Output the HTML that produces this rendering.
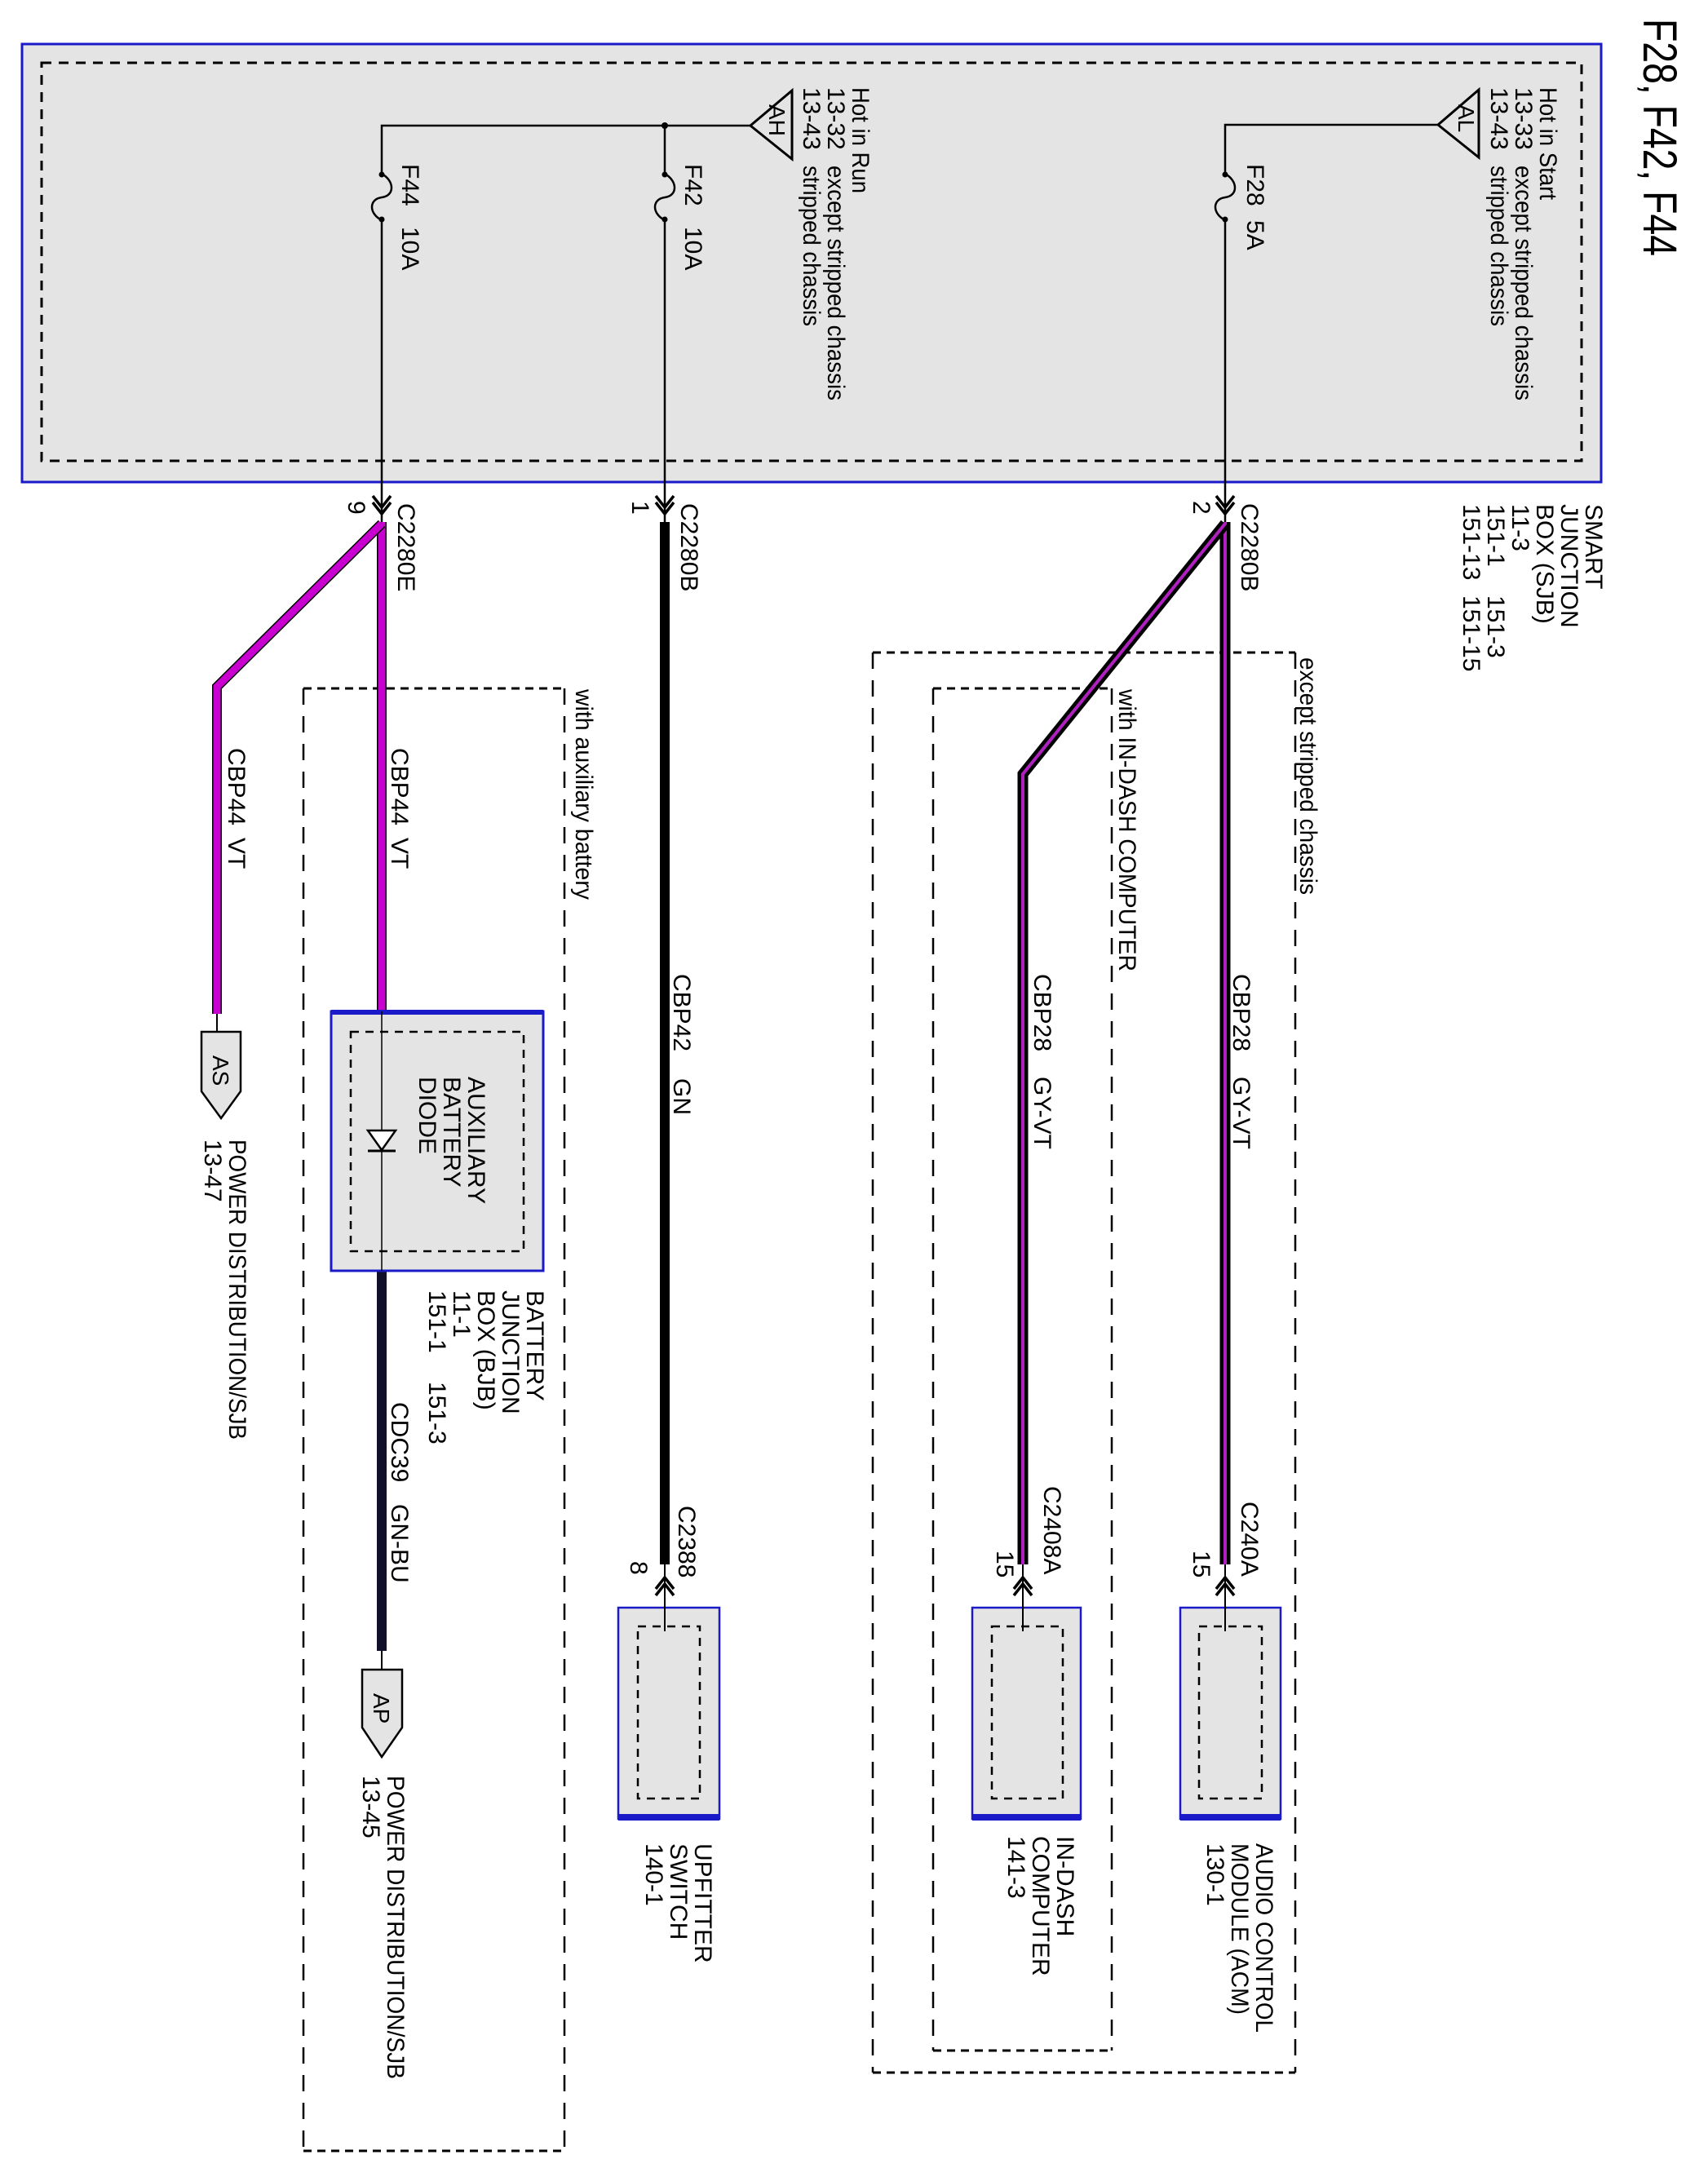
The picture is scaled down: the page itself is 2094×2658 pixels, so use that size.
<!DOCTYPE html>
<html><head><meta charset="utf-8"><style>
html,body{margin:0;padding:0;background:#fff}
svg{display:block}
text{font-family:"Liberation Sans",Arial,sans-serif;fill:#000}
</style></head><body>
<svg width="2094" height="2658" viewBox="0 0 2094 2658" xmlns="http://www.w3.org/2000/svg">
<!-- SJB box -->
<rect x="27" y="54" width="1936" height="537" fill="#e4e4e4" stroke="#1a1ac8" stroke-width="3"/>
<rect x="51" y="77" width="1888" height="488" fill="none" stroke="#000" stroke-width="3" stroke-dasharray="12,9"/>

<g font-size="30">
<!-- title -->
<text transform="translate(2015,23) rotate(90)" font-size="58" textLength="291" lengthAdjust="spacingAndGlyphs">F28, F42, F44</text>

<!-- Hot in Start -->
<text transform="translate(1888,107) rotate(90)" textLength="138" lengthAdjust="spacingAndGlyphs">Hot in Start</text>
<text transform="translate(1858,107) rotate(90)">13-33</text>
<text transform="translate(1858,203) rotate(90)" textLength="288" lengthAdjust="spacingAndGlyphs">except stripped chassis</text>
<text transform="translate(1828,107) rotate(90)">13-43</text>
<text transform="translate(1828,203) rotate(90)" textLength="197" lengthAdjust="spacingAndGlyphs">stripped chassis</text>

<!-- Hot in Run -->
<text transform="translate(1045,107) rotate(90)" textLength="130" lengthAdjust="spacingAndGlyphs">Hot in Run</text>
<text transform="translate(1015,107) rotate(90)">13-32</text>
<text transform="translate(1015,203) rotate(90)" textLength="288" lengthAdjust="spacingAndGlyphs">except stripped chassis</text>
<text transform="translate(985,107) rotate(90)">13-43</text>
<text transform="translate(985,203) rotate(90)" textLength="197" lengthAdjust="spacingAndGlyphs">stripped chassis</text>

<!-- fuse labels -->
<text transform="translate(1529,201) rotate(90)">F28</text>
<text transform="translate(1529,270) rotate(90)">5A</text>
<text transform="translate(840,201) rotate(90)">F42</text>
<text transform="translate(840,278) rotate(90)">10A</text>
<text transform="translate(493,201) rotate(90)">F44</text>
<text transform="translate(493,278) rotate(90)">10A</text>

<!-- triangle labels -->
<text transform="translate(1788,128) rotate(90)" font-size="28">AL</text>
<text transform="translate(943,128) rotate(90)" font-size="28">AH</text>
</g>

<!-- AL / AH triangles -->
<polygon points="1763,153 1813,110 1813,193" fill="none" stroke="#000" stroke-width="3"/>
<polygon points="920,154 971,111 971,195" fill="none" stroke="#000" stroke-width="3"/>

<!-- top lines -->
<g stroke="#000" stroke-width="2.5" fill="none">
<path d="M1763,153 L1502,153 L1502,213"/>
<path d="M1502,270 L1502,640"/>
<path d="M920,154 L468,154 L468,213"/>
<path d="M815,154 L815,213"/>
<path d="M815,270 L815,640"/>
<path d="M468,270 L468,640"/>
<!-- fuses -->
<path d="M1502,213 C1518,222 1518,240 1502,242 C1486,244 1486,262 1502,270"/>
<path d="M815,213 C831,222 831,240 815,242 C799,244 799,262 815,270"/>
<path d="M468,213 C484,222 484,240 468,242 C452,244 452,262 468,270"/>
</g>
<g fill="#000">
<circle cx="1502" cy="214" r="3.5"/><circle cx="1502" cy="269" r="3.5"/>
<circle cx="815" cy="214" r="3.5"/><circle cx="815" cy="269" r="3.5"/>
<circle cx="468" cy="214" r="3.5"/><circle cx="468" cy="269" r="3.5"/>
<circle cx="815" cy="154" r="4"/>
</g>

<!-- top connector arrows -->
<g stroke="#000" stroke-width="3.5" fill="none">
<path d="M1491,608 L1502,622 L1513,608 M1491,616 L1502,630 L1513,616"/>
<path d="M804,608 L815,622 L826,608 M804,616 L815,630 L826,616"/>
<path d="M457,608 L468,622 L479,608 M457,616 L468,630 L479,616"/>
</g>

<!-- SJB label -->
<g font-size="30">
<text transform="translate(1944,618) rotate(90)">SMART</text>
<text transform="translate(1914,618) rotate(90)">JUNCTION</text>
<text transform="translate(1884,618) rotate(90)">BOX (SJB)</text>
<text transform="translate(1854,618) rotate(90)">11-3</text>
<text transform="translate(1824,618) rotate(90)">151-1</text>
<text transform="translate(1824,730) rotate(90)">151-3</text>
<text transform="translate(1794,618) rotate(90)">151-13</text>
<text transform="translate(1794,730) rotate(90)">151-15</text>

<text transform="translate(1522,617) rotate(90)">C2280B</text>
<text transform="translate(1463,614) rotate(90)">2</text>
<text transform="translate(835,617) rotate(90)">C2280B</text>
<text transform="translate(775,614) rotate(90)">1</text>
<text transform="translate(488,617) rotate(90)">C2280E</text>
<text transform="translate(427,614) rotate(90)">9</text>
</g>

<!-- dashed option boxes -->
<g fill="none" stroke="#000" stroke-width="3">
<path d="M1070,800 L1588,800 M1070,2541 L1588,2541" stroke-dasharray="10,7"/>
<path d="M1070,800 L1070,2541 M1588,800 L1588,2541" stroke-dasharray="20,14" stroke-width="2.5"/>
<path d="M1144,844 L1363,844 M1144,2514 L1363,2514" stroke-dasharray="10,7"/>
<path d="M1144,844 L1144,2514 M1363,844 L1363,2514" stroke-dasharray="20,14" stroke-width="2.5"/>
<path d="M372,844 L692,844 M372,2637 L692,2637" stroke-dasharray="10,7"/>
<path d="M372,844 L372,2637 M692,844 L692,2637" stroke-dasharray="20,14" stroke-width="2.5"/>
</g>
<g font-size="30">
<text transform="translate(1594,806) rotate(90)" textLength="291" lengthAdjust="spacingAndGlyphs">except stripped chassis</text>
<text transform="translate(1372,845) rotate(90)" textLength="346" lengthAdjust="spacingAndGlyphs">with IN-DASH COMPUTER</text>
<text transform="translate(706,845) rotate(90)" textLength="258" lengthAdjust="spacingAndGlyphs">with auxiliary battery</text>
</g>

<!-- wires -->
<g fill="none" stroke-linejoin="miter">
<!-- GY-VT -->
<path d="M1502,640 L1502,1918" stroke="#000" stroke-width="13"/>
<path d="M1502,640 L1502,1918" stroke="#b020c0" stroke-width="4"/>
<path d="M1502,642 L1254,949 L1254,1918" stroke="#000" stroke-width="13"/>
<path d="M1502,642 L1254,949 L1254,1918" stroke="#b020c0" stroke-width="4"/>
<!-- GN -->
<path d="M815,640 L815,1918" stroke="#000" stroke-width="12"/>
<!-- VT -->
<path d="M468,640 L468,1240" stroke="#000" stroke-width="12"/>
<path d="M468,640 L468,1240" stroke="#c800d0" stroke-width="9"/>
<path d="M468,642 L266,842 L266,1243" stroke="#000" stroke-width="12"/>
<path d="M468,642 L266,842 L266,1243" stroke="#c800d0" stroke-width="9"/>
<!-- GN-BU -->
<path d="M468,1558 L468,2024" stroke="#101028" stroke-width="12"/>
</g>

<!-- wire labels -->
<g font-size="30">
<text transform="translate(1512,1194) rotate(90)">CBP28</text>
<text transform="translate(1512,1320) rotate(90)">GY-VT</text>
<text transform="translate(1268,1194) rotate(90)">CBP28</text>
<text transform="translate(1268,1320) rotate(90)">GY-VT</text>
<text transform="translate(826,1194) rotate(90)">CBP42</text>
<text transform="translate(826,1322) rotate(90)">GN</text>
<text transform="translate(480,917) rotate(90)">CBP44</text>
<text transform="translate(480,1027) rotate(90)">VT</text>
<text transform="translate(280,917) rotate(90)">CBP44</text>
<text transform="translate(280,1027) rotate(90)">VT</text>
<text transform="translate(480,1719) rotate(90)">CDC39</text>
<text transform="translate(480,1844) rotate(90)">GN-BU</text>
</g>

<!-- thin lines to devices -->
<g stroke="#000" stroke-width="2" fill="none">
<path d="M1502,1918 L1502,2000"/>
<path d="M1254,1918 L1254,2000"/>
<path d="M815,1918 L815,2000"/>
<path d="M266,1243 L266,1265"/>
<path d="M468,2024 L468,2047"/>
<path d="M468,1240 L468,1558"/>
</g>
<!-- bottom connector arrows (upward) -->
<g stroke="#000" stroke-width="3.5" fill="none">
<path d="M1491,1948 L1502,1934 L1513,1948 M1491,1956 L1502,1942 L1513,1956"/>
<path d="M1243,1948 L1254,1934 L1265,1948 M1243,1956 L1254,1942 L1265,1956"/>
<path d="M804,1948 L815,1934 L826,1948 M804,1956 L815,1942 L826,1956"/>
</g>
<g font-size="30">
<text transform="translate(1522,1841) rotate(90)">C240A</text>
<text transform="translate(1463,1901) rotate(90)">15</text>
<text transform="translate(1280,1822) rotate(90)">C2408A</text>
<text transform="translate(1222,1901) rotate(90)">15</text>
<text transform="translate(832,1846) rotate(90)">C2388</text>
<text transform="translate(773,1914) rotate(90)">8</text>
</g>

<!-- module boxes -->
<g>
<rect x="1447" y="1971" width="123" height="259" fill="#e4e4e4" stroke="#1a1ac8" stroke-width="2.5"/>
<rect x="1447" y="2224" width="123" height="8" fill="#1a1ac8"/>
<rect x="1470" y="1994" width="77" height="211" fill="none" stroke="#000" stroke-width="2.5" stroke-dasharray="10,8"/>
<rect x="1192" y="1971" width="133" height="259" fill="#e4e4e4" stroke="#1a1ac8" stroke-width="2.5"/>
<rect x="1192" y="2224" width="133" height="8" fill="#1a1ac8"/>
<rect x="1216" y="1994" width="87" height="211" fill="none" stroke="#000" stroke-width="2.5" stroke-dasharray="10,8"/>
<rect x="758" y="1971" width="124" height="259" fill="#e4e4e4" stroke="#1a1ac8" stroke-width="2.5"/>
<rect x="758" y="2224" width="124" height="8" fill="#1a1ac8"/>
<rect x="782" y="1994" width="76" height="211" fill="none" stroke="#000" stroke-width="2.5" stroke-dasharray="10,8"/>
</g>
<g stroke="#000" stroke-width="2"><path d="M1502,1956 L1502,2000 M1254,1956 L1254,2000 M815,1956 L815,2000"/></g>
<g font-size="30">
<text transform="translate(1540,2260) rotate(90)" textLength="232" lengthAdjust="spacingAndGlyphs">AUDIO CONTROL</text>
<text transform="translate(1510,2260) rotate(90)" textLength="210" lengthAdjust="spacingAndGlyphs">MODULE (ACM)</text>
<text transform="translate(1480,2260) rotate(90)">130-1</text>
<text transform="translate(1296,2251) rotate(90)">IN-DASH</text>
<text transform="translate(1266,2251) rotate(90)">COMPUTER</text>
<text transform="translate(1236,2251) rotate(90)">141-3</text>
<text transform="translate(852,2260) rotate(90)">UPFITTER</text>
<text transform="translate(822,2260) rotate(90)">SWITCH</text>
<text transform="translate(792,2260) rotate(90)">140-1</text>
</g>

<!-- aux battery diode box -->
<rect x="406" y="1240" width="260" height="318" fill="#e4e4e4" stroke="#1a1ac8" stroke-width="3"/>
<rect x="406" y="1238" width="260" height="6" fill="#1a1ac8"/>
<rect x="430" y="1265" width="212" height="269" fill="none" stroke="#000" stroke-width="2.5" stroke-dasharray="10,8"/>
<path d="M468,1240 L468,1558" stroke="#000" stroke-width="1.5"/>
<polygon points="451,1386 485,1386 468,1410" fill="#fff" stroke="#000" stroke-width="2.5"/>
<path d="M451,1411 L485,1411" stroke="#000" stroke-width="3"/>
<g font-size="30">
<text transform="translate(574,1320) rotate(90)">AUXILIARY</text>
<text transform="translate(544,1320) rotate(90)">BATTERY</text>
<text transform="translate(514,1320) rotate(90)">DIODE</text>
<text transform="translate(646,1582) rotate(90)">BATTERY</text>
<text transform="translate(616,1582) rotate(90)">JUNCTION</text>
<text transform="translate(586,1582) rotate(90)">BOX (BJB)</text>
<text transform="translate(556,1582) rotate(90)">11-1</text>
<text transform="translate(526,1582) rotate(90)">151-1</text>
<text transform="translate(526,1694) rotate(90)">151-3</text>
</g>

<!-- AS / AP flags -->
<polygon points="247,1265 295,1265 295,1338 271,1371 247,1338" fill="#e4e4e4" stroke="#000" stroke-width="2.5"/>
<polygon points="444,2047 493,2047 493,2118 468,2154 444,2118" fill="#e4e4e4" stroke="#000" stroke-width="2.5"/>
<g font-size="28">
<text transform="translate(261,1294) rotate(90)">AS</text>
<text transform="translate(458,2076) rotate(90)">AP</text>
</g>
<g font-size="30">
<text transform="translate(281,1397) rotate(90)" textLength="368" lengthAdjust="spacingAndGlyphs">POWER DISTRIBUTION/SJB</text>
<text transform="translate(251,1397) rotate(90)">13-47</text>
<text transform="translate(475,2177) rotate(90)" textLength="372" lengthAdjust="spacingAndGlyphs">POWER DISTRIBUTION/SJB</text>
<text transform="translate(445,2177) rotate(90)">13-45</text>
</g>
</svg>
</body></html>
